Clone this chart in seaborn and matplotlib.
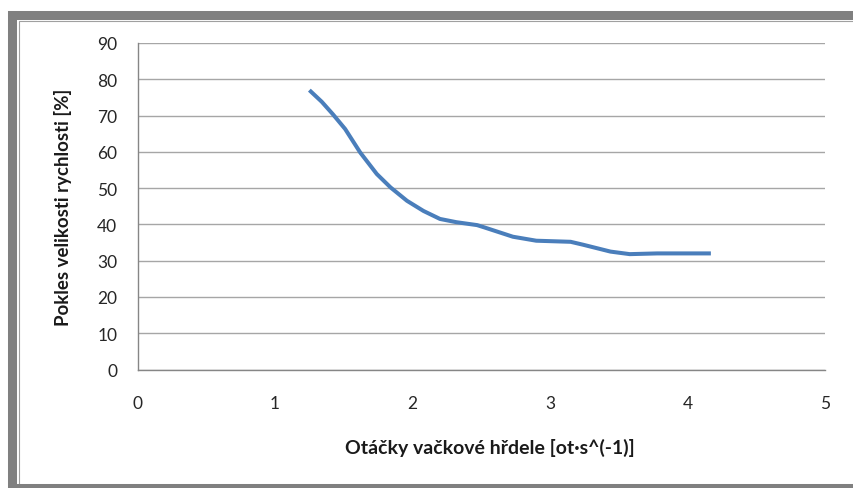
import numpy as np
import matplotlib.pyplot as plt
import matplotlib.patches as mpatches
import pandas as pd
import seaborn as sns

# values
otacky = [1.25, 1.34, 1.42, 1.51, 1.62, 1.74, 1.84, 1.96, 2.08, 2.20, 2.32, 2.47,
          2.52, 2.73, 2.90, 3.15, 3.24, 3.44, 3.58, 3.78, 4.17]
pokles = [77.0, 73.8, 70.4, 66.3, 59.8, 53.9, 50.2, 46.5, 43.7, 41.5, 40.6, 39.8,
          39.2, 36.6, 35.5, 35.2, 34.4, 32.5, 31.8, 32.0, 32.0]
x_ticks = [0, 1, 2, 3, 4, 5]
y_ticks = [0, 10, 20, 30, 40, 50, 60, 70, 80, 90]

df = pd.DataFrame({"otacky": otacky, "pokles": pokles})

sns.set_style("white")
plt.rcParams['font.family'] = ['Lato', 'DejaVu Sans']

W, H = 854, 489
fig = plt.figure(figsize=(W / 100, H / 100), dpi=100)

# grey frame around the chart, Excel style
frame = mpatches.Rectangle((12.5 / W, 0.5 / H), 1.2, 1 - 16 / H,
                           transform=fig.transFigure, fill=False,
                           edgecolor='#808080', linewidth=6.5, zorder=5)
fig.patches.append(frame)
inner = mpatches.Rectangle((18.8 / W, -0.1), 1.2, 1 - 21.5 / H + 0.1,
                           transform=fig.transFigure, fill=False,
                           edgecolor='#a0a0a0', linewidth=0.8)
fig.patches.append(inner)

ax = fig.add_axes([137.5 / W, 1 - 370.5 / H, (825 - 137.5) / W, (370.5 - 44) / H])

sns.lineplot(data=df, x="otacky", y="pokles", ax=ax, color='#4a7ebb',
             linewidth=2.9, solid_capstyle='butt')

ax.set_xlim(0, 5)
ax.set_ylim(0, 90)
ax.set_xticks(x_ticks)
ax.set_yticks(y_ticks)
ax.yaxis.grid(True, color='#a6a6a6', linewidth=1.0)
ax.set_axisbelow(True)

for s in ['top', 'right']:
    ax.spines[s].set_visible(False)
for s in ['left', 'bottom']:
    ax.spines[s].set_color('#868686')
    ax.spines[s].set_linewidth(1.0)

ax.tick_params(axis='y', direction='out', length=6.5, width=1, color='#868686',
               pad=8, labelsize=12.5, labelcolor='#262626')
ax.tick_params(axis='x', direction='out', length=4.5, width=1, color='#868686',
               pad=14, labelsize=12.5, labelcolor='#262626')

ax.set_xlabel("Otáčky vačkové hřdele [ot·s^(-1)]", fontsize=14,
              fontweight='bold', color='#1a1a1a', va='center')
ax.set_ylabel("Pokles velikosti rychlosti [%]", fontsize=13.4,
              fontweight='bold', color='#1a1a1a', va='center')
ax.xaxis.set_label_coords((490 - 137.5) / 687.5, (370.5 - 448) / 326.5)
ax.yaxis.set_label_coords((63 - 137.5) / 687.5, 0.5)

plt.savefig('out.png', dpi=100)
